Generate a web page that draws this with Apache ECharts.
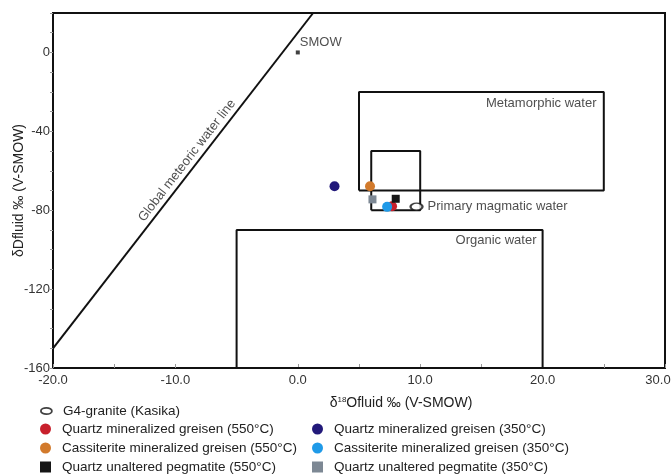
<!DOCTYPE html>
<html>
<head>
<meta charset="utf-8">
<script src="https://cdn.jsdelivr.net/npm/echarts@6/dist/echarts.min.js"></script>
<style>html,body{margin:0;padding:0;background:#fff}#c{width:672px;height:474px}</style>
</head>
<body>
<div id="c"></div>
<script>
// ---- data ----
const xTicks = [-20, -10, 0, 10, 20, 30];
const yTicks = [-160, -120, -80, -40, 0];
// boxes: [xMin, xMax, yMin, yMax]
const metamorphicBox = [5, 25, -70, -20];
const magmaticBox = [6, 10, -80, -50];
const organicBox = [-5, 20, -160, -90];
// global meteoric water line endpoints
const gmwl = [[-20, -150], [1.25, 20]];
const smow = [[0, 0]];
// samples [d18O, dD]
const g4Granite = [[9.7, -78.2]];
const qtzGreisen550 = [[7.7, -78.0]];
const cstGreisen550 = [[5.9, -67.8]];
const qtzPegmatite550 = [[8.0, -74.2]];
const qtzGreisen350 = [[3.0, -67.8]];
const cstGreisen350 = [[7.3, -78.3]];
const qtzPegmatite350 = [[6.1, -74.5]];
// text annotations [x, y, text]
const boxLabels = [
  [24.4, -26, 'Metamorphic water', 'right'],
  [19.5, -95.2, 'Organic water', 'right'],
  [10.6, -78.3, 'Primary magmatic water', 'left']
];
const gmwlLabel = [[-9.05, -54.8, 'Global meteoric water line']];
// legend layout: [name, column, row]
const legendItems = [
  ['G4-granite (Kasika)', 0, 0],
  ['Quartz mineralized greisen (550°C)', 0, 1],
  ['Cassiterite mineralized greisen (550°C)', 0, 2],
  ['Quartz unaltered pegmatite (550°C)', 0, 3],
  ['Quartz mineralized greisen (350°C)', 1, 1],
  ['Cassiterite mineralized greisen (350°C)', 1, 2],
  ['Quartz unaltered pegmatite (350°C)', 1, 3]
];

function rect(b) {
  return [[b[0], b[2]], [b[1], b[2]], [b[1], b[3]], [b[0], b[3]], [b[0], b[2]]];
}
const font = 'Arial, "Liberation Sans", sans-serif';
const txtCol = '#222';

const boxSeries = [metamorphicBox, magmaticBox, organicBox].map(b => ({
  type: 'line', data: rect(b), symbol: 'none', silent: true, z: 1,
  lineStyle: { color: '#111', width: 2 }, animation: false
}));

function pts(name, data, symbol, size, color, extra) {
  return Object.assign({
    name, type: 'scatter', data, symbol, symbolSize: size, z: 5,
    itemStyle: { color, opacity: 1 }, animation: false
  }, extra || {});
}

const series = [
  ...boxSeries,
  { type: 'line', data: gmwl, symbol: 'none', silent: true, z: 1,
    lineStyle: { color: '#111', width: 2 }, animation: false },
  { type: 'scatter', data: smow, symbol: 'rect', symbolSize: 4, z: 4,
    itemStyle: { color: '#111' }, silent: true, animation: false,
    label: { show: true, formatter: 'SMOW', position: [4, -15], fontSize: 13,
      fontFamily: font, color: txtCol } },
  { type: 'scatter', symbolSize: 0, silent: true, animation: false,
    data: boxLabels.map(d => ({ value: [d[0], d[1]],
      label: { show: true, formatter: d[2], position: 'inside', align: d[3],
        verticalAlign: 'middle', fontSize: 13, fontFamily: font, color: txtCol } })) },
  { type: 'scatter', symbolSize: 0, silent: true, animation: false,
    data: gmwlLabel.map(d => ({ value: [d[0], d[1]],
      label: { show: true, formatter: d[2], position: 'inside', rotate: 52.3,
        align: 'center', verticalAlign: 'middle', fontSize: 13, fontFamily: font, color: txtCol } })) },
  pts('G4-granite (Kasika)', g4Granite, 'circle', [12, 7], '#fff',
    { itemStyle: { color: '#fff', borderColor: '#111', borderWidth: 1.8 } }),
  pts('Quartz mineralized greisen (550°C)', qtzGreisen550, 'circle', 10, '#c8202c'),
  pts('Cassiterite mineralized greisen (550°C)', cstGreisen550, 'circle', 10, '#d27a2c'),
  pts('Quartz unaltered pegmatite (550°C)', qtzPegmatite550, 'rect', 8, '#161616'),
  pts('Quartz mineralized greisen (350°C)', qtzGreisen350, 'circle', 10, '#22197a'),
  pts('Cassiterite mineralized greisen (350°C)', cstGreisen350, 'circle', 10, '#1f9ae8'),
  pts('Quartz unaltered pegmatite (350°C)', qtzPegmatite350, 'rect', 8, '#7d8894')
];

const icons = {
  'G4-granite (Kasika)': { icon: 'path://M0,3.5 A6,3.5 0 1,0 12,3.5 A6,3.5 0 1,0 0,3.5 Z',
    itemStyle: { color: '#fff', borderColor: '#111', borderWidth: 1.8 } },
  square: { icon: 'path://M0,0 L8,0 L8,8 L0,8 Z' },
  circle: { icon: 'circle' }
};
const colLeft = [40, 312];
const rowTop = [404, 422, 441, 460];
const legends = legendItems.map(([name, col, row]) => {
  const ic = name.startsWith('G4') ? icons[name] : (name.indexOf('pegmatite') >= 0 ? icons.square : icons.circle);
  return {
    orient: 'horizontal', left: colLeft[col], top: rowTop[row],
    itemWidth: 11, itemHeight: 11, padding: 0, selectedMode: false,
    textStyle: { fontSize: 13.5, fontFamily: font, color: txtCol, padding: [0, 0, 0, 6] },
    data: [Object.assign({ name }, ic)]
  };
});

const chart = echarts.init(document.getElementById('c'), null, { renderer: 'canvas' });
chart.setOption({
  animation: false,
  backgroundColor: '#fff',
  grid: { left: 53, right: 7, top: 13, bottom: 106, show: true, borderColor: '#111', borderWidth: 2,
    containLabel: false, outerBoundsMode: 'none' },
  xAxis: {
    type: 'value', min: xTicks[0], max: xTicks[xTicks.length - 1], interval: 10,
    axisLine: { onZero: false, lineStyle: { color: '#111', width: 2 } },
    axisTick: { show: true, inside: true, length: 4, lineStyle: { color: '#999' } },
    minorTick: { show: true, splitNumber: 2, length: 4, lineStyle: { color: '#999' } },
    splitLine: { show: false },
    axisLabel: { fontSize: 13, fontFamily: font, color: '#333', margin: 6,
      formatter: v => (v === xTicks[xTicks.length - 1] ? '{m|' + v.toFixed(1) + '}' : v.toFixed(1)),
      rich: { m: { fontSize: 13, fontFamily: font, color: '#333', padding: [0, 14, 0, 0] } } },
    name: '{d|δ}{s|18}{d|Ofluid ‰ (V-SMOW)}', nameLocation: 'middle', nameGap: 28,
    nameMoveOverlap: false,
    nameTextStyle: { padding: [0, 0, 0, 84],
      rich: { d: { fontSize: 14, fontFamily: font, color: txtCol },
              s: { fontSize: 8, fontFamily: font, color: txtCol, verticalAlign: 'top', padding: [0, 0, 6, 0] } } }
  },
  yAxis: {
    type: 'value', min: -160, max: 20, interval: 40,
    axisLine: { onZero: false, lineStyle: { color: '#111', width: 2 } },
    axisTick: { show: true, inside: false, length: 3, lineStyle: { color: '#999' } },
    minorTick: { show: true, splitNumber: 4, length: 3, lineStyle: { color: '#999' } },
    splitLine: { show: false },
    axisLabel: { fontSize: 13, fontFamily: font, color: '#333', margin: 3, showMaxLabel: false,
      formatter: v => (yTicks.indexOf(v) >= 0 ? String(v) : '') },
    name: 'δDfluid ‰ (V-SMOW)', nameLocation: 'middle', nameGap: 27,
    nameMoveOverlap: false,
    nameTextStyle: { fontSize: 14, fontFamily: font, color: txtCol }
  },
  legend: legends,
  series
});
</script>
</body>
</html>
